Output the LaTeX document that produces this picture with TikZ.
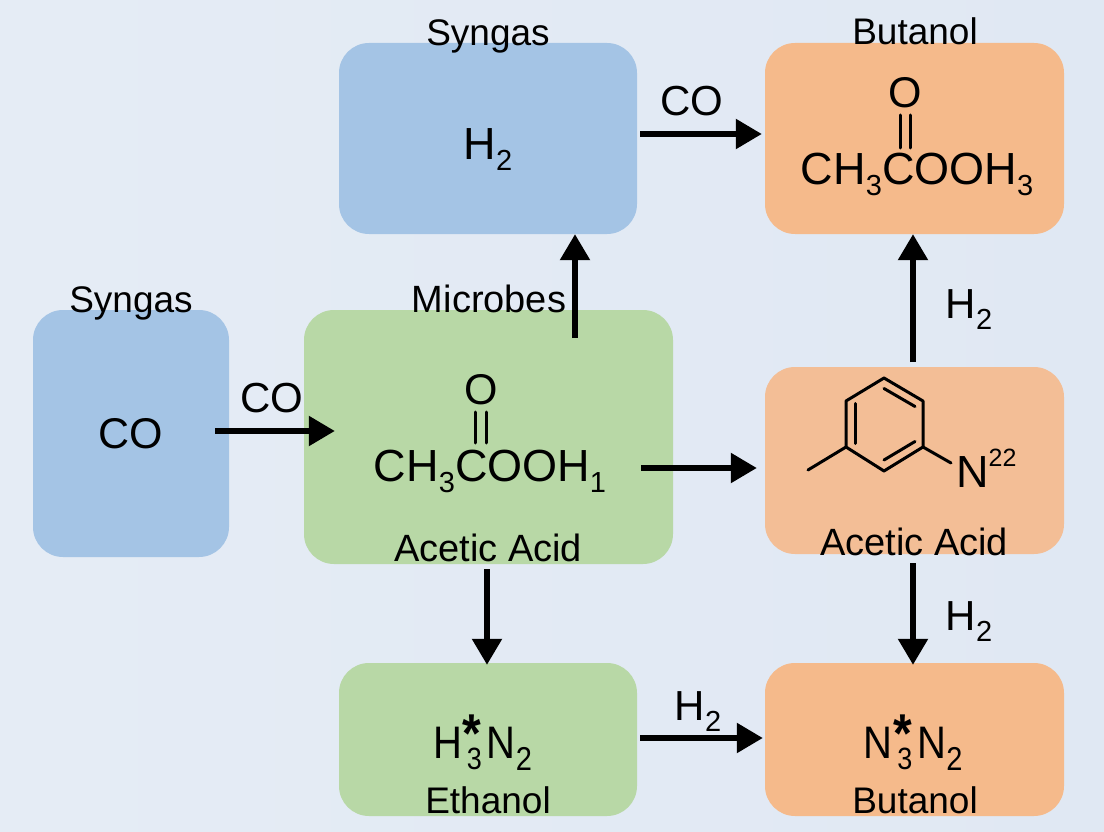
\documentclass[tikz,border=0pt]{standalone}
\usepackage{fontspec}
\setmainfont{Liberation Sans}
\usetikzlibrary{arrows.meta,calc}

\definecolor{bgleft}{HTML}{E5ECF5}
\definecolor{bgright}{HTML}{E0E8F3}
\definecolor{boxblue}{HTML}{A4C4E5}
\definecolor{boxgreen}{HTML}{B8D8A6}
\definecolor{boxorange}{HTML}{F5BA8B}
\definecolor{boxpeach}{HTML}{F3BE96}

\newcommand{\sbs}[1]{\raisebox{-11pt}{\fontsize{29}{29}\selectfont #1}}
\newcommand{\stk}{\makebox[25pt]{\rlap{\raisebox{-10pt}{\hspace{5pt}\fontsize{27}{27}\selectfont 3}}\raisebox{5pt}{\hspace{1pt}\fontsize{48}{48}\selectfont\bfseries *}\hfill}}
\newcommand{\tall}[1]{\scalebox{1}[1.14]{#1}}

\tikzset{
    panel/.style={rounded corners=30pt, minimum width=#1, inner sep=0pt},
    title/.style={anchor=base, font=\fontsize{38}{40}\selectfont, inner sep=0pt},
    chem/.style={anchor=base, font=\fontsize{45}{48}\selectfont, inner sep=0pt},
    flow/.style={line width=5.5pt, -{Triangle[length=26pt,width=29pt]}},
    bond/.style={line width=3pt, line cap=round}
}

\begin{document}
\begin{tikzpicture}[x=1pt,y=-1pt]
    % Background
    \useasboundingbox (0,0) rectangle (1104,832);
    \shade[left color=bgleft, right color=bgright] (0,0) rectangle (1104,832);

    % Panels
    \node[panel=298pt, minimum height=191pt, fill=boxblue] (syngastop) at (488,138.5) {};
    \node[panel=299pt, minimum height=191pt, fill=boxorange] (butanoltop) at (914.5,138.5) {};
    \node[panel=196pt, minimum height=247pt, fill=boxblue] (cobox) at (131,433.5) {};
    \node[panel=369pt, minimum height=254pt, fill=boxgreen] (acetic) at (488.5,437) {};
    \node[panel=299pt, minimum height=187pt, fill=boxpeach] (aryl) at (914.5,460.5) {};
    \node[panel=298pt, minimum height=153pt, fill=boxgreen] (ethanol) at (488,739.5) {};
    \node[panel=299pt, minimum height=153pt, fill=boxorange] (butanolend) at (914.5,739.5) {};

    % Panel titles
    \node[title, font=\fontsize{37}{40}\selectfont] (syngastoplabel) at (488,46) {Syngas};
    \node[title, font=\fontsize{37}{40}\selectfont] (butanoltoplabel) at (915,45) {Butanol};
    \node[title, font=\fontsize{37}{40}\selectfont] (syngasleftlabel) at (131,312) {Syngas};
    \node[title] (microbeslabel) at (489,312) {Microbes};
    \node[title] (aceticlabel) at (488,561) {Acetic Acid};
    \node[title] (aryllabel) at (914,555) {Acetic Acid};
    \node[title, font=\fontsize{37}{40}\selectfont] (ethanollabel) at (488,813) {Ethanol};
    \node[title, font=\fontsize{37}{40}\selectfont] (butanolendlabel) at (915,813) {Butanol};

    % Formulas
    \node[chem] (htwo) at (488,160) {H\sbs{2}};
    \node[chem, font=\fontsize{43}{46}\selectfont] (cotext) at (131,448) {CO};
    \node[chem, font=\fontsize{43}{46}\selectfont] (oxotop) at (905,108) {O};
    \node[chem] (estertop) at (917,185) {CH\sbs{3}COOH\sbs{3}};
    \node[chem, font=\fontsize{43}{46}\selectfont] (oxomid) at (481,404) {O};
    \node[chem] (estermid) at (490,481) {CH\sbs{3}COOH\sbs{1}};
    \node[chem, font=\fontsize{40}{44}\selectfont] (hnitro) at (482.5,758) {\tall{H\stk N\sbs{2}}};
    \node[chem, font=\fontsize{40}{44}\selectfont] (nnitro) at (913,758) {\tall{N\stk N\sbs{2}}};

    % Double bonds
    \draw[bond] (900,115) -- (900,148);
    \draw[bond] (910,115) -- (910,148);
    \draw[bond] (475.5,412) -- (475.5,443);
    \draw[bond] (486,412) -- (486,443);

    % Ring
    \draw[bond, line join=round] (884,378) -- (923,401) -- (923,447) -- (884,471) -- (846,447) -- (846,401) -- cycle;
    \draw[bond] (884,388.5) -- (915,406.5);
    \draw[bond] (855.7,403.5) -- (855.7,443.5);
    \draw[bond] (884,460) -- (915,441.5);
    \draw[bond] (846,447) -- (808,470);
    \draw[bond] (923,447) -- (951,463);
    \node[chem, anchor=base west] (nitrogen) at (956,487) {N\raisebox{21pt}{\fontsize{25}{25}\selectfont 22}};

    % Arrows
    \coordinate (microbestail) at (575,338);
    \coordinate (aryltail) at (913,362);
    \coordinate (aceticfoot) at (487,569);
    \coordinate (arylfoot) at (913,563);
    \draw[flow] ([xshift=3pt]syngastop.east |- 0,134) -- ([xshift=-3pt]butanoltop.west |- 0,134);
    \draw[flow] ([xshift=-14pt]cobox.east |- 0,431) -- ([xshift=31pt]acetic.west |- 0,431);
    \draw[flow] (microbestail) -- (microbestail |- syngastop.south);
    \draw[flow] ([xshift=-32pt]acetic.east |- 0,468) -- ([xshift=-8pt]aryl.west |- 0,468);
    \draw[flow] (aryltail) -- (aryltail |- butanoltop.south);
    \draw[flow] (aceticfoot) -- ([yshift=-2pt]aceticfoot |- ethanol.north);
    \draw[flow] (arylfoot) -- ([yshift=-2pt]arylfoot |- butanolend.north);
    \draw[flow] ([xshift=3pt]ethanol.east |- 0,738) -- ([xshift=-2pt]butanolend.west |- 0,738);

    % Arrow labels
    \node[chem, font=\fontsize{42}{44}\selectfont] (cotoplabel) at (692,116) {CO};
    \node[chem, font=\fontsize{42}{44}\selectfont] (coleftlabel) at (272,412) {CO};
    \node[chem, font=\fontsize{42}{44}\selectfont] (htworight) at (969,318) {H\sbs{2}};
    \node[chem, font=\fontsize{42}{44}\selectfont] (htwolow) at (969,630) {H\sbs{2}};
    \node[chem, font=\fontsize{42}{44}\selectfont] (htwoend) at (698,720) {H\sbs{2}};
\end{tikzpicture}
\end{document}
